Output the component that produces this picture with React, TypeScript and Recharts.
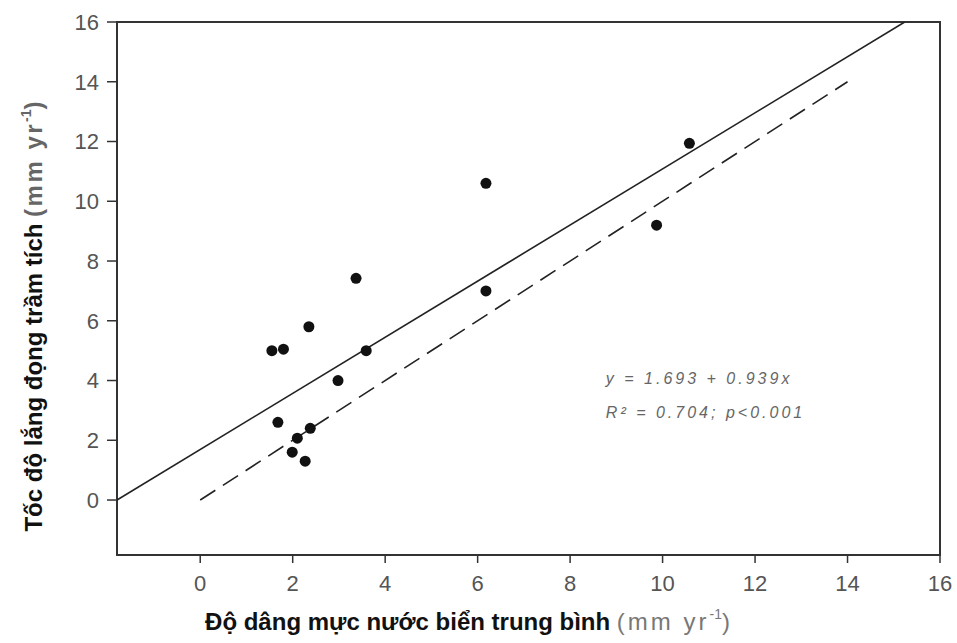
import {
  ScatterChart,
  Scatter,
  XAxis,
  YAxis,
  ReferenceArea,
  ReferenceDot,
} from 'recharts'

const seaLevelRise = [1.55, 1.8, 2.35, 3.37, 6.18, 10.58, 9.87, 6.18, 3.59, 2.98, 1.68, 2.38, 2.1, 1.99, 2.27]
const sedimentRate = [5.0, 5.05, 5.8, 7.42, 10.6, 11.94, 9.2, 7.0, 5.0, 4.0, 2.6, 2.4, 2.07, 1.6, 1.3]

const xTicks = [0, 2, 4, 6, 8, 10, 12, 14, 16]
const yTicks = [0, 2, 4, 6, 8, 10, 12, 14, 16]
const xDomain = [-1.8, 16]
const yDomain = [-1.84, 16]

// fitted regression y = a + b x and the 1:1 reference line
const intercept = 1.693
const slope = 0.939
const fitStartX = -1.8
const oneToOneEnd = 14
const equationLines = ['y = 1.693 + 0.939x', 'R² = 0.704; p<0.001']

const points = seaLevelRise.map((x, i) => ({ x, y: sedimentRate[i] }))
const fitEndX = (yDomain[1] - intercept) / slope
const fitLine = [
  { x: fitStartX, y: intercept + slope * fitStartX },
  { x: fitEndX, y: intercept + slope * fitEndX },
]
const oneToOne = [
  { x: 0, y: 0 },
  { x: oneToOneEnd, y: oneToOneEnd },
]

const font = 'Liberation Sans, Arial, sans-serif'
const tickStyle = { fontSize: 22, fill: '#555', fontFamily: font }

function XLabel({ viewBox }: any) {
  const cx = viewBox.x + viewBox.width / 2 - 61
  return (
    <text x={cx} y={630} textAnchor="middle" fontFamily={font}>
      <tspan fontSize={24} fontWeight="bold" fill="#111">Độ dâng mực nước biển trung bình </tspan>
      <tspan fontSize={24} fill="#777" letterSpacing={3}>(mm yr</tspan>
      <tspan fontSize={14} fill="#777" dy={-11}>-1</tspan>
      <tspan fontSize={24} fill="#777" dy={11}>)</tspan>
    </text>
  )
}

function YLabel({ viewBox }: any) {
  const cy = viewBox.y + viewBox.height / 2 + 28
  const cx = 42
  return (
    <text
      x={cx}
      y={cy}
      textAnchor="middle"
      transform={`rotate(-90, ${cx}, ${cy})`}
      fontFamily={font}
    >
      <tspan fontSize={24} fontWeight="bold" fill="#111">Tốc độ lắng đọng trầm tích </tspan>
      <tspan fontSize={24} fontWeight="bold" fill="#666" letterSpacing={2.5}>(mm yr</tspan>
      <tspan fontSize={14} fontWeight="bold" fill="#666" dy={-11}>-1</tspan>
      <tspan fontSize={24} fontWeight="bold" fill="#666" dy={11}>)</tspan>
    </text>
  )
}

function Equation({ viewBox }: any) {
  return (
    <g fontFamily={font} fontStyle="italic" fontSize={16} fill="#666" letterSpacing={3}>
      {equationLines.map((line, i) => (
        <text key={i} x={viewBox.x + 8} y={viewBox.y + i * 34}>
          {line}
        </text>
      ))}
    </g>
  )
}

export default function App() {
  return (
    <div style={{ position: 'absolute', left: 0, top: 0, width: 957, height: 643, background: '#fff' }}>
      <ScatterChart width={957} height={643} margin={{ top: 22, right: 17, bottom: 38, left: 57 }}>
        <XAxis
          type="number"
          dataKey="x"
          domain={xDomain}
          ticks={xTicks}
          allowDataOverflow
          height={50}
          tick={tickStyle}
          tickSize={8}
          tickMargin={12}
          axisLine={{ stroke: '#333', strokeWidth: 2 }}
          tickLine={{ stroke: '#333', strokeWidth: 1.5 }}
          label={<XLabel />}
        />
        <YAxis
          type="number"
          dataKey="y"
          domain={yDomain}
          ticks={yTicks}
          allowDataOverflow
          width={60}
          tick={tickStyle}
          tickSize={10}
          tickMargin={8}
          axisLine={{ stroke: '#333', strokeWidth: 2 }}
          tickLine={{ stroke: '#333', strokeWidth: 1.5 }}
          label={<YLabel />}
        />
        <ReferenceArea
          x1={xDomain[0]}
          x2={xDomain[1]}
          y1={yDomain[0]}
          y2={yDomain[1]}
          fill="none"
          stroke="#333"
          strokeWidth={2}
          ifOverflow="visible"
        />
        <Scatter
          data={fitLine}
          line={{ stroke: '#222', strokeWidth: 1.6 }}
          shape={() => <g />}
          isAnimationActive={false}
        />
        <Scatter
          data={oneToOne}
          line={{ stroke: '#222', strokeWidth: 1.6, strokeDasharray: '18 9' }}
          shape={() => <g />}
          isAnimationActive={false}
        />
        <Scatter data={points} fill="#111" isAnimationActive={false} shape={(p: any) => <circle cx={p.cx} cy={p.cy} r={5.5} fill="#111" />} />
        <ReferenceDot
          x={8.6}
          y={3.9}
          r={0}
          ifOverflow="visible"
          shape={() => <g />}
          label={<Equation />}
        />
      </ScatterChart>
    </div>
  )
}
